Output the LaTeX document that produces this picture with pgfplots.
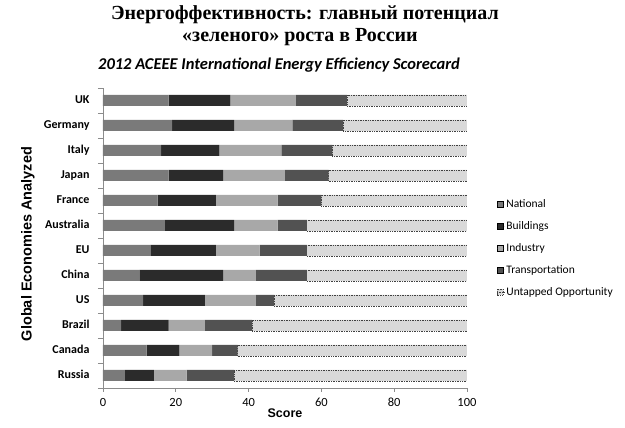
\documentclass[border=0pt]{standalone}
\usepackage{pgfplots}
\usepackage{pgfplotstable}
\pgfplotsset{compat=1.18}
\usepackage{fontspec}
\setmainfont{Carlito}
\newfontfamily\titlefont{Liberation Serif}
\newfontfamily\arialfont{Liberation Sans}
\definecolor{cNat}{HTML}{7A7A7A}
\definecolor{cBld}{HTML}{2B2B2B}
\definecolor{cInd}{HTML}{A8A8A8}
\definecolor{cTrn}{HTML}{525252}
\definecolor{cUnt}{HTML}{D9D9D9}
\definecolor{cAx}{HTML}{8C8C8C}
\pgfplotstableread{
y name nat bld ind trn unt
0 Russia 6 8 9 13 64
1 Canada 12 9 9 7 63
2 Brazil 5 13 10 13 59
3 US 11 17 14 5 53
4 China 10 23 9 14 44
5 EU 13 18 12 13 44
6 Australia 17 19 12 8 44
7 France 15 16 17 12 40
8 Japan 18 15 17 12 38
9 Italy 16 16 17 14 37
10 Germany 19 17 16 14 34
11 UK 18 17 18 14 33
}\scores
\begin{document}
\begin{tikzpicture}
\path[use as bounding box] (-103pt,-40pt) rectangle (522pt,388pt);
\begin{axis}[
  at={(0pt,0pt)}, anchor=south west,
  scale only axis, width=364pt, height=300pt,
  xbar stacked, bar width=11pt,
  xmin=0, xmax=100, ymin=-0.5, ymax=11.5,
  axis lines*=left,
  axis line style={cAx, line width=0.6pt},
  xtick={0,20,...,100},
  ytick={0,...,11},
  yticklabels={Russia,Canada,Brazil,US,China,EU,Australia,France,Japan,Italy,Germany,UK},
  minor ytick={-0.5,0.5,...,11.5},
  major y tick style={draw=none},
  minor y tick style={cAx, line width=0.6pt},
  minor tick length=5pt,
  x tick style={cAx, line width=0.6pt},
  major tick length=4pt,
  tick align=outside,
  /pgf/number format/assume math mode=true,
  typeset ticklabels with strut,
  xticklabel style={font=\fontsize{12.5}{14}\selectfont, yshift=-1pt},
  yticklabel style={font=\fontsize{12}{14}\selectfont\bfseries, xshift=-6pt},
  legend style={at={(1.081,0.633)}, anchor=north west, draw=none, fill=none,
    font=\fontsize{11.5}{13}\selectfont, row sep=10.5pt, inner sep=0pt,
    nodes={inner sep=1pt}},
  legend cell align=left,
  legend image code/.code={\filldraw[#1,line width=0.6pt] (0pt,-3pt) rectangle (6pt,3pt);\path (0pt,0pt) -- (8pt,0pt);},
]
\addplot[fill=cNat, draw=none] table[x=nat, y=y] {\scores};
\addplot[fill=cBld, draw=none] table[x=bld, y=y] {\scores};
\addplot[fill=cInd, draw=none] table[x=ind, y=y] {\scores};
\addplot[fill=cTrn, draw=none] table[x=trn, y=y] {\scores};
\addplot[fill=cUnt, draw=black!75, densely dotted, line width=0.7pt] table[x=unt, y=y] {\scores};
\legend{National,Buildings,Industry,Transportation,Untapped Opportunity}
\end{axis}
\node[font=\titlefont\bfseries\fontsize{20}{22}\selectfont] at (202pt,373pt) {Энергоффективность: главный потенциал};
\node[font=\titlefont\bfseries\fontsize{20}{22}\selectfont] at (197pt,351pt) {«зеленого» роста в России};
\node[font=\bfseries\itshape\fontsize{16.5}{18}\selectfont] at (176pt,323pt) {2012 ACEEE International Energy Efficiency Scorecard};
\node[font=\arialfont\bfseries\fontsize{14.5}{16}\selectfont, rotate=90] at (-75pt,144pt) {Global Economies Analyzed};
\node[font=\arialfont\bfseries\fontsize{12.5}{14}\selectfont] at (182pt,-25pt) {Score};
\end{tikzpicture}
\end{document}
